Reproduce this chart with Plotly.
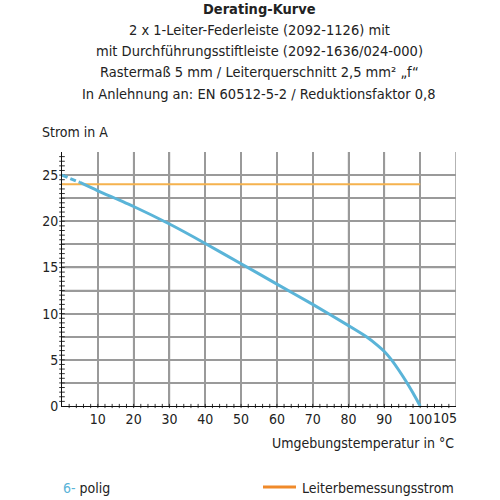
import numpy as np
import plotly.graph_objects as go

# ---- data ----
temp_dashed = [0, 5]
current_dashed = [25.0, 24.2]
temp_curve = [5, 10, 20, 30, 40, 50, 60, 70, 80, 85, 88, 90, 92, 94, 96, 98, 100]
current_curve = [24.2, 23.3, 21.6, 19.7, 17.6, 15.4, 13.2, 11.0, 8.7, 7.5, 6.6, 5.9, 5.0, 3.9, 2.7, 1.4, 0.0]
rated_temp = [0, 100]
rated_current = [24, 24]

x_tickvals = [10, 20, 30, 40, 50, 60, 70, 80, 90, 100, 110]
x_ticktext = ["10", "20", "30", "40", "50", "60", "70", "80", "90", "100", ""]
y_tickvals = [0, 2.5, 5, 7.5, 10, 12.5, 15, 17.5, 20, 22.5, 25]
y_ticktext = ["0", "", "5", "", "10", "", "15", "", "20", "", "25"]
extra_x_label = 105

title_lines = [
    "<b>Derating-Kurve</b>",
    "2 x 1-Leiter-Federleiste (2092-1126) mit",
    "mit Durchführungsstiftleiste (2092-1636/024-000)",
    "Rastermaß 5 mm / Leiterquerschnitt 2,5 mm² „f“",
    "In Anlehnung an: EN 60512-5-2 / Reduktionsfaktor 0,8",
]

BLUE = "#5ab4d8"
ORANGE = "#f5b24e"
ORANGE_LEG = "#f08a2a"
GRID = "#9a9a9a"
TXT = "#222222"
FONT = "DejaVu Sans Condensed, sans-serif"
FS = 14

XR = [0, 110]
YR = [0, 27.5]

W, H = 500, 500
L, R, T, B = 62, 44, 152, 94
PH = H - T - B


def py(ypix):
    return (H - B - ypix) / PH


def px(xpix):
    return (xpix - L) / (W - L - R)


fig = go.Figure()
# minor ticks along the axes
mx = np.arange(2, 110, 2)
my = np.arange(0.5, 27.5, 0.5)
fig.add_trace(go.Scatter(x=mx, y=np.zeros_like(mx, dtype=float), mode="markers", cliponaxis=False,
                         marker=dict(symbol="line-ns", size=3, line=dict(color="#333", width=1)),
                         hoverinfo="skip"))
fig.add_trace(go.Scatter(x=np.zeros_like(my), y=my, mode="markers", cliponaxis=False,
                         marker=dict(symbol="line-ew", size=4, line=dict(color="#333", width=1)),
                         hoverinfo="skip"))

fig.add_trace(go.Scatter(x=rated_temp, y=rated_current, mode="lines",
                         line=dict(color=ORANGE, width=2)))
fig.add_trace(go.Scatter(x=temp_dashed, y=current_dashed, mode="lines",
                         line=dict(color=BLUE, width=3, dash="6px,3px")))
fig.add_trace(go.Scatter(x=temp_curve, y=current_curve, mode="lines", line_shape="spline",
                         line=dict(color=BLUE, width=3, smoothing=0.6)))

fig.update_xaxes(range=XR, tickmode="array", tickvals=x_tickvals, ticktext=x_ticktext,
                 showgrid=True, gridcolor=GRID, gridwidth=1.5,
                 showline=True, linecolor="#111111", linewidth=1,
                 ticks="", zeroline=False,
                 tickfont=dict(family=FONT, size=FS, color=TXT))
fig.update_yaxes(range=YR, tickmode="array", tickvals=y_tickvals, ticktext=y_ticktext,
                 showgrid=True, gridcolor=GRID, gridwidth=1.5,
                 showline=True, linecolor="#111111", linewidth=1,
                 ticks="", zeroline=False,
                 tickfont=dict(family=FONT, size=FS, color=TXT))

# grid lines as shapes below the traces, built from the tick arrays
shapes = []
for v in x_tickvals:
    shapes.append(dict(type="line", xref="x", yref="y", x0=v, x1=v, y0=YR[0], y1=YR[1],
                       layer="below", line=dict(color=GRID, width=1.5)))
for v in y_tickvals[1:]:
    shapes.append(dict(type="line", xref="x", yref="y", x0=XR[0], x1=XR[1], y0=v, y1=v,
                       layer="below", line=dict(color=GRID, width=1.5)))
shapes.append(dict(type="line", xref="paper", yref="paper", x0=px(263), x1=px(296),
                   y0=py(487), y1=py(487), line=dict(color=ORANGE_LEG, width=3)))

annotations = []
title_y = [9, 30, 51, 72, 94]
for txt, yy in zip(title_lines, title_y):
    annotations.append(dict(text=txt, x=0.5, xref="paper", y=py(yy), yref="paper",
                            xanchor="center", yanchor="middle", showarrow=False,
                            font=dict(family=FONT, size=14.5, color=TXT)))
annotations.append(dict(text=str(extra_x_label), x=extra_x_label + 2, xref="x", y=py(418), yref="paper",
                        xanchor="center", yanchor="middle", showarrow=False,
                        font=dict(family=FONT, size=FS, color=TXT)))
annotations.append(dict(text="Strom in A", x=px(40), xref="paper", y=py(132), yref="paper",
                        xanchor="left", yanchor="middle", showarrow=False,
                        font=dict(family=FONT, size=FS, color=TXT)))
annotations.append(dict(text="Umgebungstemperatur in °C", x=1, xref="paper", y=py(443), yref="paper",
                        xanchor="right", yanchor="middle", showarrow=False,
                        font=dict(family=FONT, size=FS, color=TXT)))
annotations.append(dict(text=f"<span style='color:{BLUE}'>6-</span> polig", x=px(61), xref="paper",
                        y=py(488), yref="paper", xanchor="left", yanchor="middle", showarrow=False,
                        font=dict(family=FONT, size=FS, color=TXT)))
annotations.append(dict(text="Leiterbemessungsstrom", x=1, xref="paper", y=py(488), yref="paper",
                        xanchor="right", yanchor="middle", showarrow=False,
                        font=dict(family=FONT, size=FS, color=TXT)))

fig.update_layout(width=W, height=H, margin=dict(l=L, r=R, t=T, b=B),
                  plot_bgcolor="white",
                  annotations=annotations, shapes=shapes, showlegend=False)

fig.write_html("out.html")
